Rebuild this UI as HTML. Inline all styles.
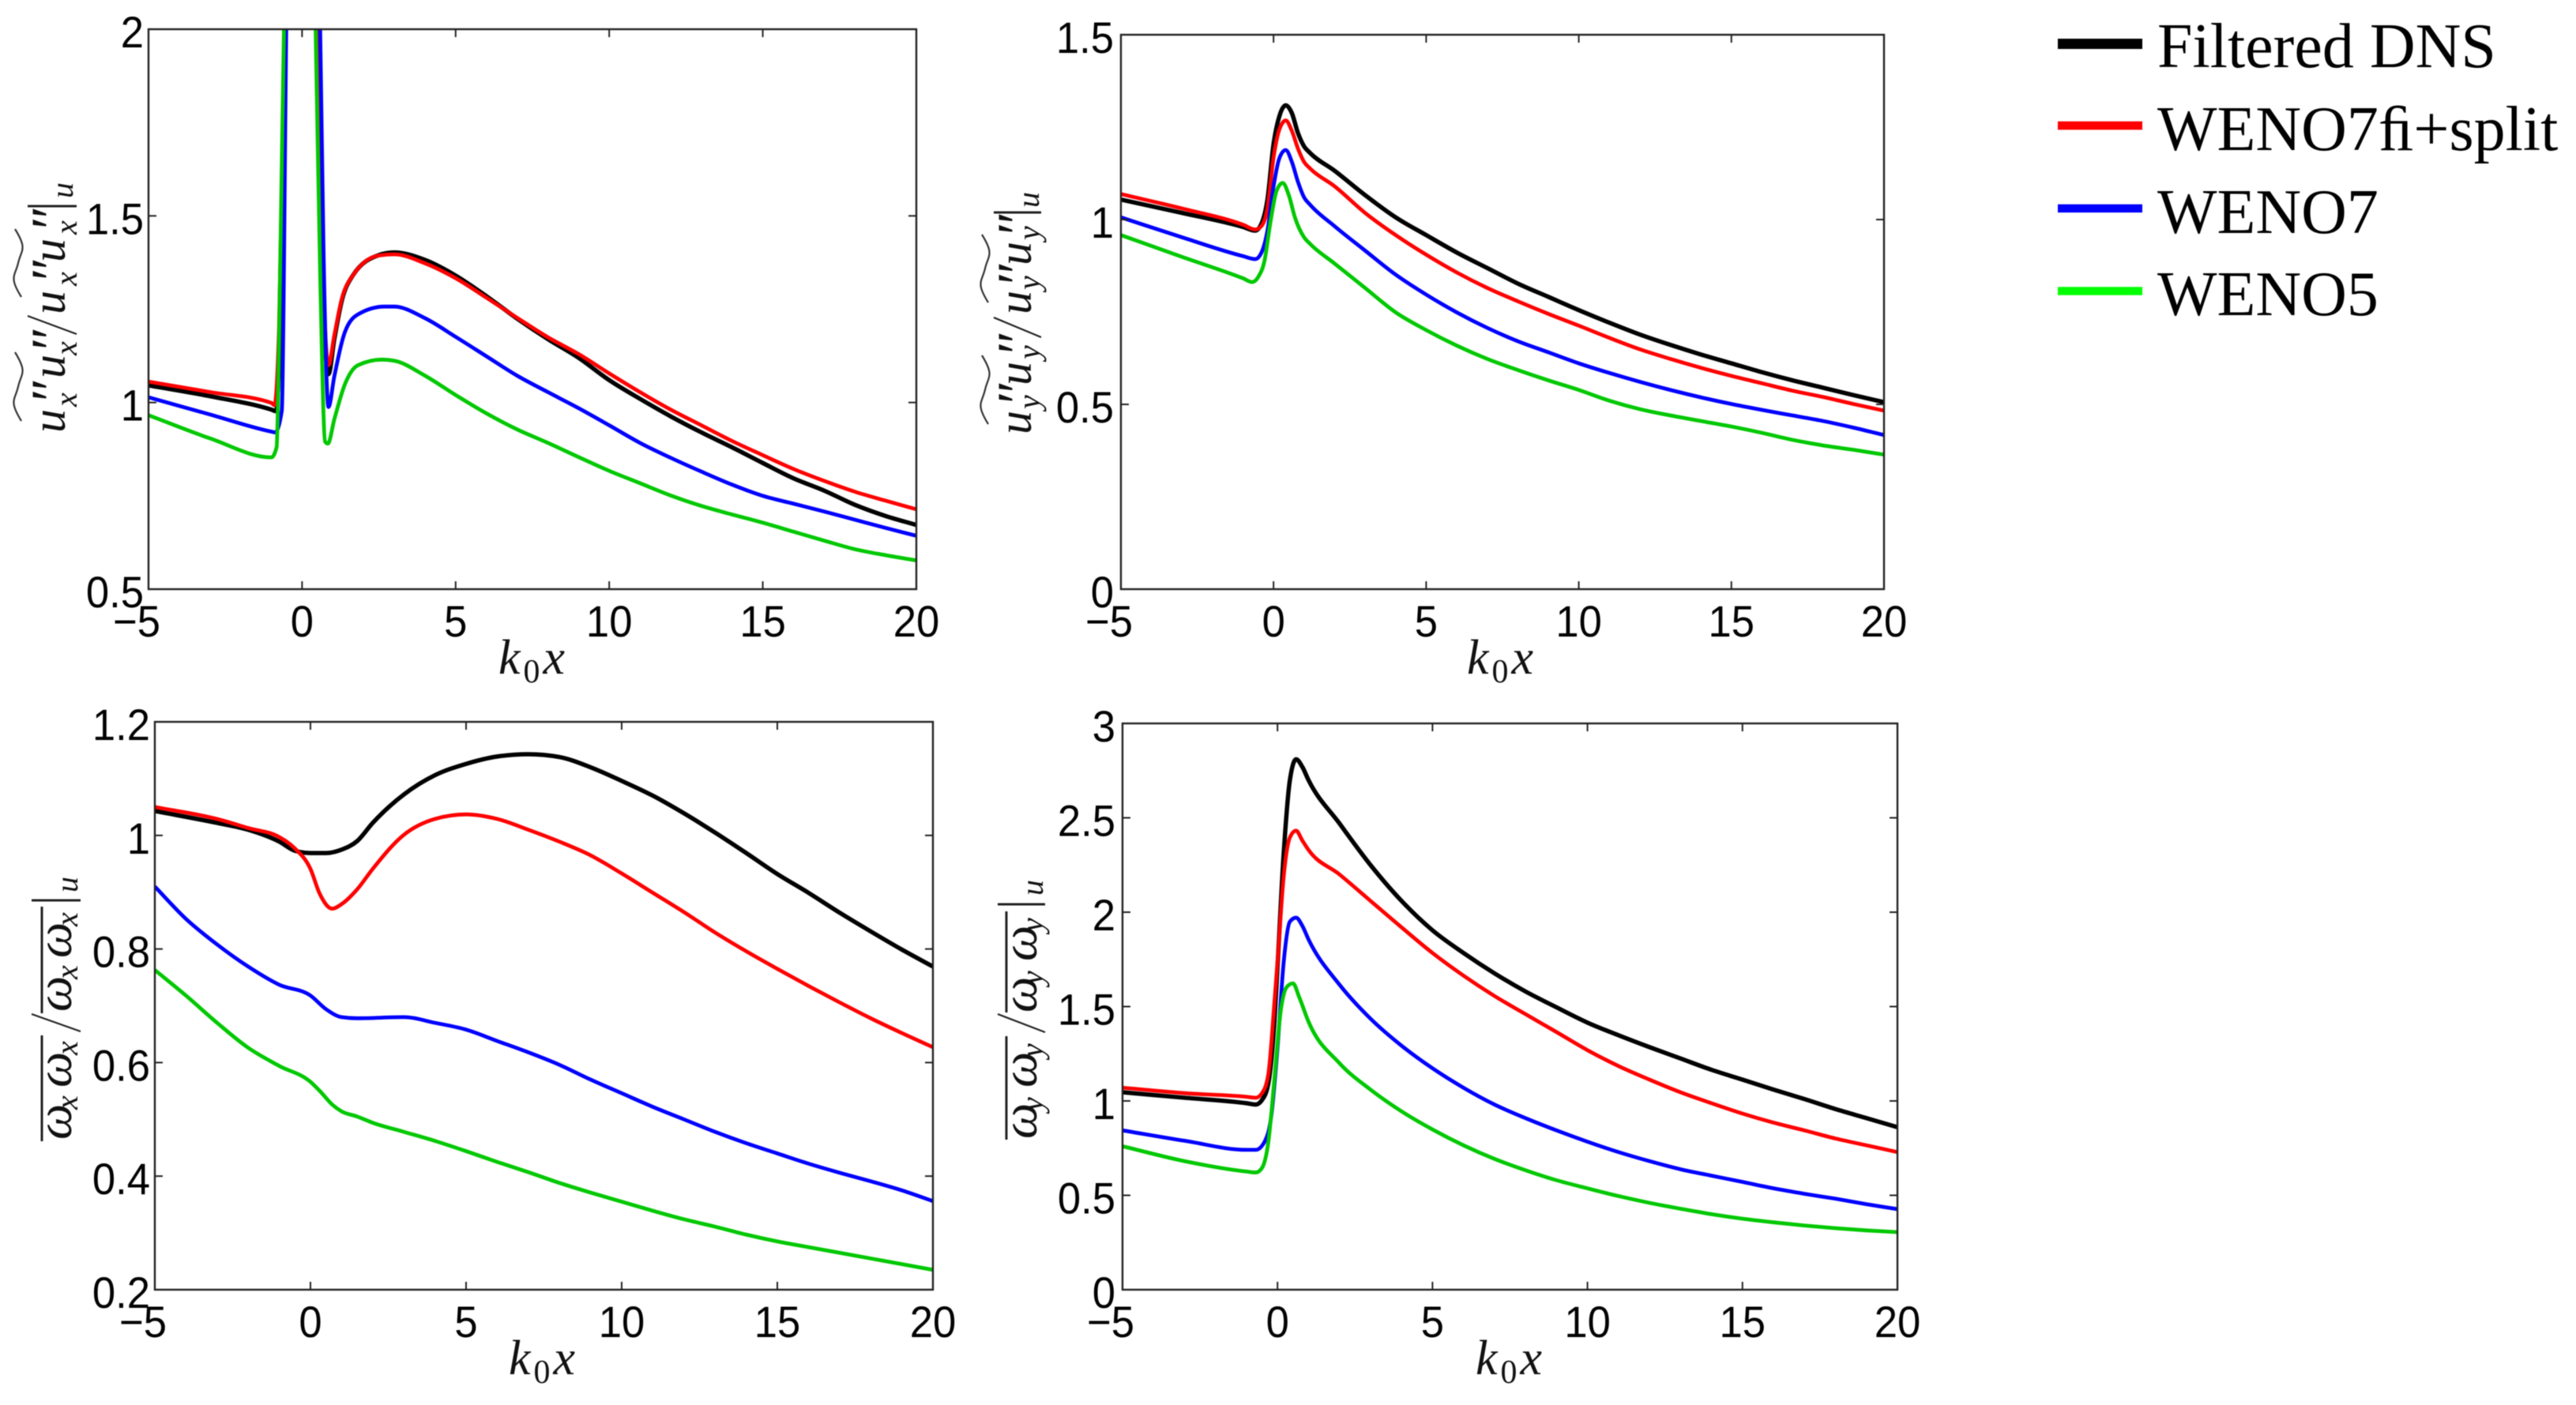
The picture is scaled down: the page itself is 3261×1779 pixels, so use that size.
<!DOCTYPE html>
<html lang="en">
<head>
<meta charset="utf-8">
<title>Filtered DNS vs WENO comparison</title>
<style>
html,body{margin:0;padding:0;background:#fff;}
body{width:3261px;height:1779px;overflow:hidden;}
svg{display:block;filter:blur(0.6px);}
.tick{font-family:"Liberation Sans",sans-serif;font-size:56px;fill:#000;}
.math{font-family:"Liberation Serif",serif;font-style:italic;fill:#111;}
.leg{font-family:"Liberation Serif",serif;font-size:80px;fill:#000;}
</style>
</head>
<body>
<svg id="fig" xmlns="http://www.w3.org/2000/svg" width="3261" height="1779" viewBox="0 0 3261 1779">
  <rect x="0" y="0" width="3261" height="1779" fill="#fff"/>
  <g>
    <g>
      <rect x="2605" y="49" width="107" height="13" fill="#000"/>
      <text class="leg" x="2731" y="85">Filtered DNS</text>
    </g>
    <g>
      <rect x="2605" y="153.7" width="107" height="10.6" fill="#f00"/>
      <text class="leg" x="2731" y="190">WENO7ﬁ+split</text>
    </g>
    <g>
      <rect x="2605" y="258.7" width="107" height="10.4" fill="#00f"/>
      <text class="leg" x="2731" y="295">WENO7</text>
    </g>
    <g>
      <rect x="2605" y="363.3" width="107" height="10.4" fill="#0f0"/>
      <text class="leg" x="2731" y="399">WENO5</text>
    </g>
  </g>
</svg>
<script>
// ---- shared tick values
const xTickValues = [-5, 0, 5, 10, 15, 20];
const p1YTicks = [0.5, 1, 1.5, 2];
const p2YTicks = [0, 0.5, 1, 1.5];
const p3YTicks = [0.2, 0.4, 0.6, 0.8, 1, 1.2];
const p4YTicks = [0, 0.5, 1, 1.5, 2, 2.5, 3];
const p1YTickLabels = ['0.5', '1', '1.5', '2'];
const p2YTickLabels = ['0', '0.5', '1', '1.5'];
const p3YTickLabels = ['0.2', '0.4', '0.6', '0.8', '1', '1.2'];
const p4YTickLabels = ['0', '0.5', '1', '1.5', '2', '2.5', '3'];

// ---- x samples shared by long tails of the curves
const tailFrom2 = [2,3,4,5,6,7,8,9,10,11,12,13,14,15,16,17,18,19,20];
const tailFrom3 = [3,4,5,6,7,8,9,10,11,12,13,14,15,16,17,18,19,20];

// ---- panel 1
const p1BlackX = [-5,-3,-1,-0.85,-0.7,-0.55,-0.3,0,0.3,0.5,0.65,0.86,1.05,1.3,1.65,2.5].concat(tailFrom3);
const p1BlackY = [1.046,1.017,0.981,0.977,1.25,2.1,3,3.5,3,2.1,1.4,1.076,1.17,1.275,1.34,1.395,
  1.402,1.382,1.34,1.285,1.225,1.17,1.12,1.06,1.01,0.963,0.92,0.88,0.838,0.797,0.764,0.726,0.696,0.672];
const p1RedX = [-5,-3,-1,-0.9,-0.75,-0.55,-0.3,0,0.3,0.5,0.65,0.86,1.05,1.3,1.65,2.5].concat(tailFrom3);
const p1RedY = [1.056,1.028,0.999,0.993,1.2,2.1,3,3.5,3,2.1,1.45,1.1,1.18,1.28,1.34,1.394,
  1.397,1.373,1.333,1.281,1.227,1.175,1.13,1.078,1.028,0.981,0.939,0.897,0.859,0.822,0.79,0.761,0.737,0.714];
const p1BlueX = [-5,-3,-1,-0.88,-0.66,-0.5,0,0.58,0.7,0.86,1.05,1.4,1.82,2.68].concat(tailFrom3);
const p1BlueY = [1.014,0.968,0.922,0.92,0.978,2.1,3.4,2.05,1.4,0.988,1.07,1.19,1.236,1.257,
  1.257,1.226,1.176,1.124,1.072,1.028,0.985,0.939,0.892,0.852,0.815,0.78,0.75,0.729,0.708,0.686,0.664,0.643];
const p1GreenX = [-5,-3,-1,-0.83,-0.7,-0.58,0,0.43,0.6,0.75,0.84,1.05,1.4,1.82,2.6].concat(tailFrom3);
const p1GreenY = [0.966,0.904,0.853,0.88,1.43,2.05,3.3,2.05,1.3,0.895,0.89,0.955,1.05,1.1,1.115,
  1.112,1.072,1.02,0.971,0.928,0.892,0.854,0.817,0.784,0.751,0.723,0.7,0.678,0.654,0.63,0.607,0.591,0.577];

// ---- panel 2
const p2SharedX = [-5,-3,-1,-0.6,-0.4,-0.2,0,0.2,0.4,0.6,0.8,1,1.2].concat(tailFrom2);
const p2BlackY = [1.054,1.018,0.98,0.97,0.988,1.054,1.204,1.282,1.309,1.288,1.234,1.198,1.18,
  1.132,1.066,1.006,0.958,0.911,0.869,0.827,0.791,0.755,0.721,0.689,0.661,0.635,0.611,0.587,0.565,0.545,0.525,0.506];
const p2RedY = [1.069,1.03,0.986,0.973,0.982,1.03,1.168,1.246,1.268,1.24,1.192,1.156,1.138,
  1.09,1.018,0.958,0.905,0.857,0.815,0.779,0.745,0.713,0.68,0.649,0.623,0.599,0.577,0.557,0.537,0.52,0.501,0.483];
const p2BlueY = [1.006,0.952,0.901,0.893,0.91,0.97,1.09,1.168,1.188,1.156,1.102,1.06,1.04,
  0.982,0.916,0.851,0.797,0.749,0.707,0.671,0.641,0.611,0.585,0.561,0.539,0.519,0.501,0.485,0.47,0.455,0.437,0.417];
const p2GreenX = [-5,-3,-1,-0.7,-0.5,-0.3,-0.1,0.1,0.3,0.5,0.7,1,1.2].concat(tailFrom2);
const p2GreenY = [0.958,0.899,0.841,0.831,0.845,0.887,0.994,1.078,1.099,1.066,1.006,0.952,0.934,
  0.881,0.815,0.749,0.701,0.659,0.623,0.593,0.565,0.539,0.51,0.487,0.47,0.455,0.44,0.423,0.404,0.389,0.377,0.364];

// ---- panel 3
const p3BlackX = [-5,-3,-2,-1,-0.5,0,0.5,1,1.5].concat(tailFrom2);
const p3BlackY = [1.043,1.022,1.01,0.989,0.973,0.969,0.969,0.975,0.99,
  1.022,1.072,1.106,1.126,1.139,1.143,1.138,1.12,1.096,1.07,1.039,1.005,0.969,0.932,0.899,0.864,0.831,0.799,0.769];
const p3RedX = [-5,-3,-2,-1,-0.5,0,0.3,0.7,1,1.5].concat(tailFrom2);
const p3RedY = [1.05,1.029,1.013,0.997,0.977,0.941,0.897,0.871,0.879,0.905,
  0.941,1.001,1.029,1.037,1.029,1.01,0.989,0.965,0.933,0.899,0.865,0.829,0.796,0.765,0.735,0.706,0.678,0.652,0.627];
const p3BlueX = [-5,-4,-3,-2,-1,0,0.5,1,1.5].concat(tailFrom3);
const p3BlueY = [0.91,0.853,0.808,0.769,0.737,0.718,0.694,0.68,0.678,
  0.68,0.67,0.658,0.638,0.618,0.596,0.57,0.546,0.522,0.5,0.478,0.458,0.44,0.422,0.406,0.391,0.375,0.356];
const p3GreenX = [-5,-4,-3,-2,-1,0,0.3,0.7,1,1.5].concat(tailFrom2);
const p3GreenY = [0.763,0.718,0.67,0.626,0.594,0.566,0.55,0.526,0.514,0.505,
  0.494,0.478,0.462,0.444,0.425,0.407,0.388,0.371,0.355,0.339,0.324,0.311,0.297,0.285,0.275,0.265,0.255,0.245,0.235];

// ---- panel 4
const p4BlackX = [-5,-3,-1,-0.7,-0.5,-0.3,-0.1,0,0.2,0.4,0.6,0.8,1].concat(tailFrom2);
const p4BlackY = [1.046,1.017,0.988,0.981,1.005,1.089,1.42,1.71,2.31,2.7,2.81,2.77,2.7,
  2.47,2.25,2.06,1.904,1.784,1.676,1.58,1.496,1.415,1.348,1.285,1.225,1.165,1.113,1.06,1.01,0.957,0.909,0.861];
const p4RedX = [-5,-3,-1,-0.7,-0.5,-0.3,-0.1,0,0.2,0.4,0.6,0.8,1].concat(tailFrom2);
const p4RedY = [1.07,1.041,1.022,1.017,1.041,1.137,1.52,1.736,2.19,2.396,2.432,2.38,2.33,
  2.2,2.06,1.92,1.784,1.664,1.556,1.46,1.365,1.269,1.185,1.113,1.046,0.988,0.933,0.885,0.844,0.801,0.765,0.729];
const p4BlueX = [-5,-3,-1,-0.7,-0.4,-0.2,0,0.2,0.4,0.6,0.8,1].concat(tailFrom2);
const p4BlueY = [0.844,0.789,0.741,0.741,0.789,0.921,1.28,1.736,1.95,1.971,1.928,1.856,
  1.616,1.436,1.293,1.173,1.07,0.981,0.909,0.844,0.784,0.729,0.681,0.638,0.604,0.571,0.537,0.508,0.482,0.453,0.427];
const p4GreenX = [-5,-3,-1,-0.7,-0.5,-0.3,-0.1,0.1,0.3,0.5,0.7,1].concat(tailFrom2);
const p4GreenY = [0.76,0.681,0.626,0.621,0.645,0.777,1.113,1.472,1.604,1.623,1.55,1.42,
  1.2,1.06,0.945,0.849,0.765,0.693,0.633,0.58,0.537,0.496,0.46,0.429,0.4,0.376,0.357,0.34,0.326,0.314,0.305];

const seriesNames = ['filtered-dns', 'weno7fi-split', 'weno7', 'weno5'];
const seriesColors = ['#000000', '#ff0000', '#0000ff', '#00c800'];

const NS = 'http://www.w3.org/2000/svg';
const fig = document.getElementById('fig');

function make(tag, parent, name, props) {
  const el = document.createElementNS(NS, tag);
  
  
  for (const k in props) el.setAttribute(k, props[k]);
  parent.appendChild(el);
  return el;
}

// Monotone cubic through the sampled points, keeps peaks sharp without overshoot.
function monotonePath(px, py) {
  const n = px.length, m = [], s = [];
  for (let i = 0; i < n - 1; i++) s.push((py[i + 1] - py[i]) / (px[i + 1] - px[i]));
  m[0] = s[0]; m[n - 1] = s[n - 2];
  for (let i = 1; i < n - 1; i++) {
    if (s[i - 1] * s[i] <= 0) { m[i] = 0; continue; }
    const h0 = px[i] - px[i - 1], h1 = px[i + 1] - px[i];
    const w = (s[i - 1] * h1 + s[i] * h0) / (h0 + h1);
    m[i] = Math.sign(s[i]) * Math.min(2 * Math.abs(s[i - 1]), 2 * Math.abs(s[i]), Math.abs(w));
  }
  let d = 'M' + px[0].toFixed(2) + ' ' + py[0].toFixed(2);
  for (let i = 0; i < n - 1; i++) {
    const h = (px[i + 1] - px[i]) / 3;
    d += 'C' + (px[i] + h).toFixed(2) + ' ' + (py[i] + m[i] * h).toFixed(2) + ' ' +
      (px[i + 1] - h).toFixed(2) + ' ' + (py[i + 1] - m[i + 1] * h).toFixed(2) + ' ' +
      px[i + 1].toFixed(2) + ' ' + py[i + 1].toFixed(2);
  }
  return d;
}

function drawPanel(cfg) {
  const g = make('g', fig, cfg.id, {});
  const sx = v => cfg.L + (v - (-5)) / 25 * (cfg.R - cfg.L);
  const sy = v => cfg.B - (v - cfg.y0) / (cfg.y1 - cfg.y0) * (cfg.B - cfg.T);

  const clip = make('clipPath', g, cfg.id + '-clip', { id: cfg.id + '-clip' });
  make('rect', clip, cfg.id + '-clip-rect', { x: cfg.L, y: cfg.T, width: cfg.R - cfg.L, height: cfg.B - cfg.T });

  const curves = make('g', g, cfg.id + '-curves', { 'clip-path': 'url(#' + cfg.id + '-clip)' });
  cfg.series.forEach((s, i) => {
    const p = make('path', curves, cfg.id + '-line-' + seriesNames[i], {
      d: monotonePath(s[0].map(sx), s[1].map(sy)),
      fill: 'none', stroke: seriesColors[i], 'stroke-width': i === 0 ? 5.5 : 4.8,
      'stroke-linejoin': 'round', 'stroke-linecap': 'butt'
    });
    
  });

  make('rect', g, cfg.id + '-frame', { x: cfg.L, y: cfg.T, width: cfg.R - cfg.L, height: cfg.B - cfg.T, fill: 'none', stroke: '#222', 'stroke-width': 2.4 });

  const TL = 10;
  const squeeze = 0.94;
  xTickValues.forEach(v => {
    const x = sx(v);
    make('line', g, cfg.id + '-x-tick-bottom', { x1: x, x2: x, y1: cfg.B, y2: cfg.B - TL, stroke: '#222', 'stroke-width': 2 });
    make('line', g, cfg.id + '-x-tick-top', { x1: x, x2: x, y1: cfg.T, y2: cfg.T + TL, stroke: '#222', 'stroke-width': 2 });
    const label = make('text', g, cfg.id + '-x-tick-label', {
      class: 'tick',
      transform: 'translate(' + (v < 0 ? x + 15 : x) + ' ' + (cfg.B + 60) + ') scale(' + squeeze + ' 1)',
      'text-anchor': v < 0 ? 'end' : 'middle'
    });
    label.textContent = v < 0 ? '\u2212' + Math.abs(v) : String(v);
  });
  cfg.yTicks.forEach((v, i) => {
    const y = sy(v);
    make('line', g, cfg.id + '-y-tick-left', { x1: cfg.L, x2: cfg.L + TL, y1: y, y2: y, stroke: '#222', 'stroke-width': 2 });
    make('line', g, cfg.id + '-y-tick-right', { x1: cfg.R, x2: cfg.R - TL, y1: y, y2: y, stroke: '#222', 'stroke-width': 2 });
    const label = make('text', g, cfg.id + '-y-tick-label', {
      class: 'tick',
      transform: 'translate(' + (cfg.L - cfg.gap) + ' ' + (y + 23) + ') scale(' + squeeze + ' 1)',
      'text-anchor': 'end'
    });
    label.textContent = cfg.yTickLabels[i];
  });

  const xt = make('text', g, cfg.id + '-x-axis-title', { class: 'math', x: cfg.xTitleX, y: cfg.xTitleY, 'text-anchor': 'middle', 'font-size': 62, 'letter-spacing': 4 });
  const t1 = make('tspan', xt, cfg.id + '-x-axis-title-k', {});
  t1.textContent = 'k';
  const t2 = make('tspan', xt, cfg.id + '-x-axis-title-sub', { dy: 11, 'font-size': 42, 'font-style': 'normal' });
  t2.textContent = '0';
  const t3 = make('tspan', xt, cfg.id + '-x-axis-title-x', { dy: -11 });
  t3.textContent = 'x';

  const yt = make('g', g, cfg.id + '-y-axis-title', { transform: 'translate(' + cfg.base + ' ' + cfg.start + ') rotate(-90)' });
  cfg.label(yt, cfg.id);
}

function glyph(parent, name, ch, d, v, size) {
  const t = make('text', parent, name, { class: 'math', x: d, y: v, 'font-size': size });
  t.textContent = ch;
  return t;
}
function stroke(parent, name, d1, v1, d2, v2, w) {
  make('line', parent, name, { x1: d1, y1: v1, x2: d2, y2: v2, stroke: '#222', 'stroke-width': w });
}
function tilde(parent, name, d1, d2, v) {
  const a = d1 + (d2 - d1) * 0.3, b = d1 + (d2 - d1) * 0.7;
  make('path', parent, name, {
    d: 'M' + d1 + ' ' + (v + 4) + 'C' + a + ' ' + (v - 12) + ' ' + a + ' ' + (v - 4) + ' ' + (d1 + d2) / 2 + ' ' + v +
      'C' + b + ' ' + (v + 4) + ' ' + b + ' ' + (v + 12) + ' ' + d2 + ' ' + (v - 4),
    fill: 'none', stroke: '#333', 'stroke-width': 2.2
  });
}

function uLabel(sub, subV, u, s, t1, t2, tV, slashA, slashB, barD, uD, barV) {
  return function (g, id) {
    u.forEach((d, i) => {
      glyph(g, id + '-yt-u', 'u', d, 0, 60);
      glyph(g, id + '-yt-prime', '\u2033', s[i] + 2, 7, 72);
      glyph(g, id + '-yt-sub', sub, s[i], subV, 40);
    });
    tilde(g, id + '-yt-tilde', t1[0], t1[1], tV);
    tilde(g, id + '-yt-tilde', t2[0], t2[1], tV);
    stroke(g, id + '-yt-slash', slashB, barV[0], slashA, barV[1], 2.2);
    stroke(g, id + '-yt-bar', barD, barV[0], barD, barV[1], 3);
    glyph(g, id + '-yt-evaluated', 'u', uD, 10, 40);
  };
}
function wLabel(sub, subV, w, s, over1, over2, overV, slashA, slashB, barD, uD, barV) {
  return function (g, id) {
    w.forEach((d, i) => {
      glyph(g, id + '-yt-omega', '\u03C9', d, 0, 64);
      glyph(g, id + '-yt-sub', sub, s[i], subV, 40);
    });
    stroke(g, id + '-yt-overline', over1[0], overV, over1[1], overV, 3);
    stroke(g, id + '-yt-overline', over2[0], overV, over2[1], overV, 3);
    stroke(g, id + '-yt-slash', slashB, barV[0], slashA, barV[1], 2.2);
    stroke(g, id + '-yt-bar', barD, barV[0], barD, barV[1], 3);
    glyph(g, id + '-yt-evaluated', 'u', uD, 8, 40);
  };
}

drawPanel({
  id: 'panel-ux-ux', L: 188, R: 1160, T: 37, B: 746, y0: 0.5, y1: 2, gap: 6,
  yTicks: p1YTicks, yTickLabels: p1YTickLabels, xTitleX: 675, xTitleY: 853, base: 82, start: 548,
  series: [[p1BlackX, p1BlackY], [p1RedX, p1RedY], [p1BlueX, p1BlueY], [p1GreenX, p1GreenY]],
  label: uLabel('x', 15, [0, 69, 150, 216], [33, 98, 186, 251], [15, 102], [172, 258], -59, 125, 148, 287, 297, [-47, 15])
});
drawPanel({
  id: 'panel-uy-uy', L: 1419, R: 2385, T: 44, B: 746, y0: 0, y1: 1.5, gap: 9,
  yTicks: p2YTicks, yTickLabels: p2YTickLabels, xTitleX: 1901, xTitleY: 853, base: 1305, start: 550,
  series: [[p2SharedX, p2BlackY], [p2SharedX, p2RedY], [p2SharedX, p2BlueY], [p2GreenX, p2GreenY]],
  label: uLabel('y', 11, [0, 62, 152, 214], [32, 95, 183, 246], [13, 100], [167, 253], -58, 123, 148, 281, 287, [-47, 13])
});
drawPanel({
  id: 'panel-wx-wx', L: 196, R: 1181, T: 914, B: 1633, y0: 0.2, y1: 1.2, gap: 6,
  yTicks: p3YTicks, yTickLabels: p3YTickLabels, xTitleX: 688, xTitleY: 1740, base: 90, start: 1443,
  series: [[p3BlackX, p3BlackY], [p3RedX, p3RedY], [p3BlueX, p3BlueY], [p3GreenX, p3GreenY]],
  label: wLabel('x', 8, [0, 66, 162, 230], [38, 107, 203, 270], [-2, 132], [160, 295], -37, 137, 159, 303, 313, [-50, 12])
});
drawPanel({
  id: 'panel-wy-wy', L: 1421, R: 2402, T: 916, B: 1633, y0: 0, y1: 3, gap: 9,
  yTicks: p4YTicks, yTickLabels: p4YTickLabels, xTitleX: 1912, xTitleY: 1740, base: 1312, start: 1442,
  series: [[p4BlackX, p4BlackY], [p4RedX, p4RedY], [p4BlueX, p4BlueY], [p4GreenX, p4GreenY]],
  label: wLabel('y', 8, [0, 65, 160, 225], [35, 103, 195, 262], [-1, 130], [160, 288], -38, 135, 158, 297, 308, [-49, 11])
});
</script>
</body>
</html>
